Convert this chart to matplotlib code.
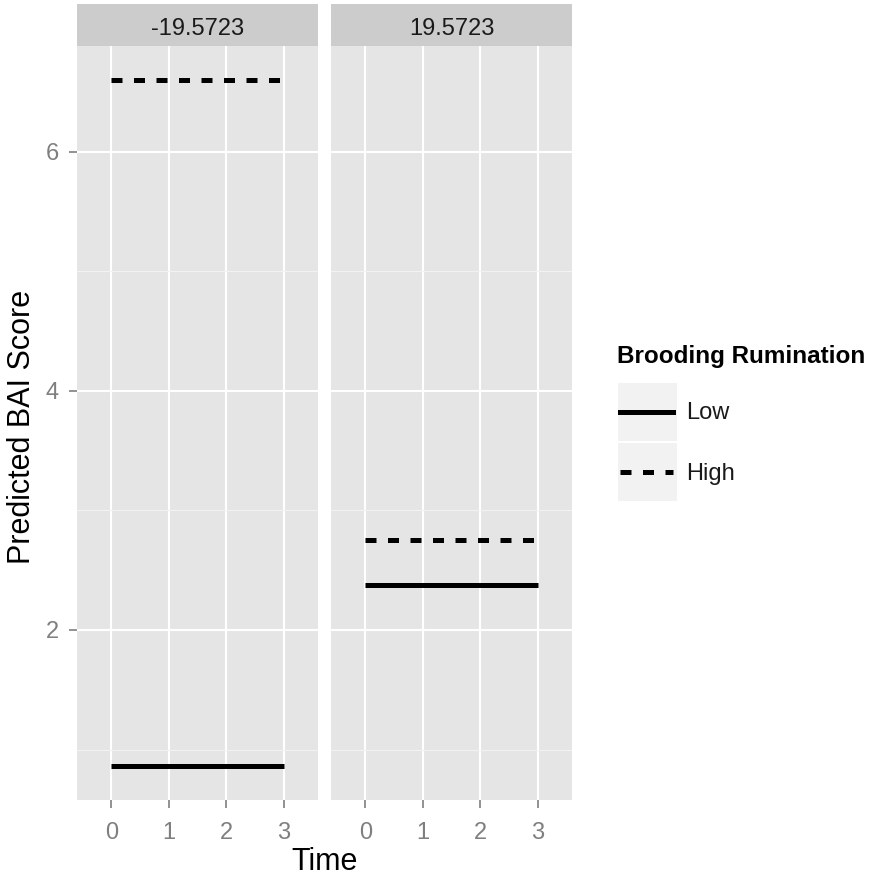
import numpy as np
import matplotlib
matplotlib.use("Agg")
import matplotlib.pyplot as plt
from matplotlib.lines import Line2D
from matplotlib.patches import Rectangle

plt.rcParams['font.family'] = ['Liberation Sans', 'DejaVu Sans']

# data
times = [0, 1, 2, 3]
time_labels = ['0', '1', '2', '3']
facets = ['-19.5723', '19.5723']
low_scores = [[0.865, 0.865, 0.865, 0.865], [2.379, 2.379, 2.379, 2.379]]
high_scores = [[6.596, 6.596, 6.596, 6.596], [2.752, 2.752, 2.752, 2.752]]
groups = ['Low', 'High']
yticks = [2, 4, 6]
yminor = [1, 3, 5]

W, H = 883, 882
fig = plt.figure(figsize=(W / 100, H / 100), dpi=100)

grey_txt = '#7f7f7f'
lw = 3.6
dash = (0, (2.2, 2.3))
small = 17

# y range like ggplot: data range + 5%
allv = np.concatenate([np.ravel(low_scores), np.ravel(high_scores)])
span = allv.max() - allv.min()
ylo, yhi = allv.min() - 0.05 * span, allv.max() + 0.05 * span

panels = [77, 331]
pw = 241
top, bot = 46, 800
for i, x0 in enumerate(panels):
    ax = fig.add_axes([x0 / W, 1 - bot / H, pw / W, (bot - top) / H])
    ax.set_facecolor('#e5e5e5')
    for s in ax.spines.values():
        s.set_visible(False)
    ax.set_xlim(-0.6, 3.6)
    ax.set_ylim(ylo, yhi)
    ax.set_xticks(times)
    ax.set_xticklabels(time_labels)
    ax.set_yticks(yticks)
    ax.set_yticks(yminor, minor=True)
    ax.grid(which='major', color='white', lw=1.5)
    ax.grid(which='minor', axis='y', color='#f2f2f2', lw=0.8)
    ax.set_axisbelow(True)
    ax.tick_params(which='major', length=6, width=1.2, color=grey_txt,
                   labelcolor=grey_txt, labelsize=small)
    ax.tick_params(axis='x', pad=10)
    ax.tick_params(axis='y', pad=7)
    ax.tick_params(which='minor', length=0)
    ax.plot(times, low_scores[i], color='black', lw=lw, solid_capstyle='butt')
    ax.plot(times, high_scores[i], color='black', lw=lw, ls=dash)
    if i > 0:
        ax.tick_params(axis='y', labelleft=False, left=False)
    # strip
    strip = fig.add_axes([x0 / W, 1 - top / H, pw / W, 42 / H])
    strip.set_facecolor('#cccccc')
    strip.set_xticks([])
    strip.set_yticks([])
    for s in strip.spines.values():
        s.set_visible(False)
    strip.text(0.5, 0.40, facets[i], ha='center', va='center', fontsize=small,
               color='#1a1a1a')

fig.text((panels[0] + panels[1] + pw) / 2 / W, 1 - 862 / H, 'Time',
         ha='center', va='center', fontsize=22)
fig.text(22 / W, 1 - 427 / H, 'Predicted BAI Score', ha='center', va='center',
         rotation=90, fontsize=22)

# legend drawn by hand (ggplot style keys)
fig.text(617 / W, 1 - 357 / H, 'Brooding Rumination', ha='left', va='center',
         fontsize=17.5, fontweight='bold')
leg = fig.add_axes([618 / W, 1 - 502 / H, 59 / W, 120 / H])
leg.set_xlim(0, 1)
leg.set_ylim(0, 2)
leg.axis('off')
for k, g in enumerate(groups):
    y = 1.5 - k
    leg.add_patch(Rectangle((0, y - 0.48), 1, 0.96, color='#f2f2f2', lw=0))
    leg.add_line(Line2D([0.04, 0.93], [y, y], color='black', lw=lw,
                        ls='-' if k == 0 else dash))
    fig.text(686 / W, 1 - (413 + 61 * k) / H, g, ha='left', va='center',
             fontsize=small, color='#1a1a1a')

fig.savefig('out.png', dpi=100)
